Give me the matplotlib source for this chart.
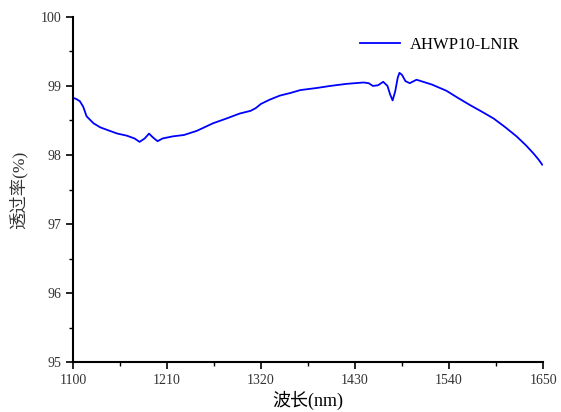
import matplotlib
matplotlib.use('Agg')
import numpy as np
from matplotlib import pyplot as plt
from matplotlib.ticker import MultipleLocator

plt.rcParams['font.family'] = ['Liberation Serif', 'Noto Sans CJK SC', 'DejaVu Sans']

# Transmittance curve
wavelength = [1100, 1104, 1108, 1112, 1116, 1124, 1132, 1143, 1152, 1163, 1172, 1178,
              1184, 1189, 1194, 1199, 1205, 1217, 1230, 1245, 1264, 1280, 1295, 1308,
              1314, 1320, 1330, 1342, 1355, 1366, 1385, 1401, 1420, 1440, 1446, 1451,
              1457, 1463, 1468, 1471, 1474, 1477, 1480, 1482, 1485, 1489, 1494, 1502,
              1520, 1537, 1550, 1565, 1578, 1592, 1605, 1619, 1630, 1639, 1645, 1649]
transmittance = [98.83, 98.81, 98.78, 98.70, 98.56, 98.46, 98.40, 98.35, 98.31, 98.28, 98.24, 98.19,
                 98.24, 98.31, 98.25, 98.20, 98.24, 98.27, 98.29, 98.35, 98.46, 98.53, 98.60, 98.64,
                 98.68, 98.74, 98.80, 98.86, 98.90, 98.94, 98.97, 99.00, 99.03, 99.05, 99.04, 99.00,
                 99.01, 99.06, 99.00, 98.88, 98.79, 98.92, 99.12, 99.19, 99.16, 99.07, 99.04, 99.09,
                 99.02, 98.93, 98.83, 98.72, 98.63, 98.53, 98.41, 98.27, 98.14, 98.02, 97.93, 97.86]

x_ticks = [1100, 1210, 1320, 1430, 1540, 1650]
y_ticks = [95, 96, 97, 98, 99, 100]

fig = plt.figure(figsize=(5.61, 4.12), dpi=100)
ax = fig.add_axes([0.130, 0.121, 0.838, 0.838])
ax.plot(wavelength, transmittance, color='#0000ff', lw=1.3, label='AHWP10-LNIR')

ax.set_xlim(1100, 1650)
ax.set_ylim(95, 100)
ax.set_xticks(x_ticks)
ax.set_yticks(y_ticks)
ax.xaxis.set_minor_locator(MultipleLocator(55))
ax.yaxis.set_minor_locator(MultipleLocator(0.5))

for side in ['top', 'right']:
    ax.spines[side].set_visible(False)
for side in ['left', 'bottom']:
    ax.spines[side].set_linewidth(1.5)
ax.tick_params(which='major', direction='out', length=5, width=1.2, labelsize=10, labelcolor='#333333')
ax.tick_params(which='minor', direction='out', length=3, width=1.0)

ax.set_xlabel('波长(nm)', fontsize=13, labelpad=3)
ax.set_ylabel('透过率(%)', fontsize=12.5, labelpad=9, color='#333333')

ax.legend(loc='upper right', frameon=False, fontsize=12, handlelength=2.4,
          handletextpad=0.6, bbox_to_anchor=(0.983, 0.985))

fig.savefig('out.png', dpi=100)
